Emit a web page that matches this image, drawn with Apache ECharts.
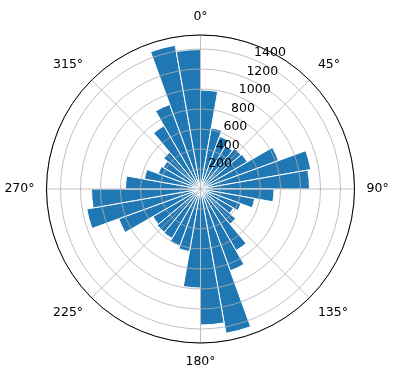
<!DOCTYPE html>
<html><head><meta charset="utf-8">
<script src="https://cdn.jsdelivr.net/npm/echarts@6/dist/echarts.min.js"></script>
<style>html,body{margin:0;padding:0;background:#fff}#c{width:396px;height:380px}</style>
</head><body><div id="c"></div>
<script>
var directions = ['0','10','20','30','40','50','60','70','80','90','100','110','120','130','140','150','160','170',
  '180','190','200','210','220','230','240','250','260','270','280','290','300','310','320','330','340','350'];
var counts = [990,620,560,500,530,540,830,1120,1090,735,550,430,380,460,710,870,1465,1360,
  990,635,605,570,565,550,870,1155,1090,750,570,450,430,480,730,900,1460,1395];
var radialTicks = [200,400,600,800,1000,1200,1400];
var angleTicks = [0,45,90,135,180,225,270,315];
var rMax = 1540;

var chart = echarts.init(document.getElementById('c'), null, {renderer:'canvas'});
var font = 'DejaVu Sans';
var C = [200.5, 189], R = 154;
chart.setOption({
  animation:false,
  polar:[{center:C,radius:R},{center:C,radius:R},{center:C,radius:R}],
  angleAxis:[
    {polarIndex:0,type:'value',min:0,max:360,interval:45,startAngle:90,clockwise:true,z:10,
     axisLine:{show:true,lineStyle:{color:'#000',width:1}},
     axisTick:{show:false},
     splitLine:{show:true,lineStyle:{color:'#b0b0b0',width:0.8}},
     axisLabel:{show:true,margin:12,color:'#000',fontFamily:font,fontSize:12.5,
       formatter:function(v){return angleTicks.indexOf(v)>=0 ? v+'°' : '';}}},
    {polarIndex:1,type:'category',data:directions,startAngle:90,clockwise:true,boundaryGap:true,
     axisLine:{show:false},axisTick:{show:false},axisLabel:{show:false},splitLine:{show:false}},
    {polarIndex:2,type:'value',min:0,max:360,startAngle:67.5,clockwise:true,
     axisLine:{show:false},axisTick:{show:false},axisLabel:{show:false},splitLine:{show:false}}
  ],
  radiusAxis:[
    {polarIndex:0,type:'value',min:0,max:rMax,interval:200,z:10,
     axisLine:{show:false},axisTick:{show:false},axisLabel:{show:false},
     splitLine:{show:true,lineStyle:{color:'#b0b0b0',width:0.8}}},
    {polarIndex:1,type:'value',min:0,max:rMax,
     axisLine:{show:false},axisTick:{show:false},axisLabel:{show:false},splitLine:{show:false}},
    {polarIndex:2,type:'value',min:0,max:rMax,interval:200,z:11,
     axisLine:{show:false},axisTick:{show:false},splitLine:{show:false},
     axisLabel:{show:true,color:'#000',fontFamily:font,fontSize:12.5,margin:0,
       align:'left',verticalAlign:'bottom',padding:[0,0,0,0],
       formatter:function(v){return radialTicks.indexOf(v)>=0 ? String(v) : '';}}}
  ],
  series:[{
    type:'bar',coordinateSystem:'polar',polarIndex:1,data:counts,
    barCategoryGap:'0%',barGap:'0%',
    itemStyle:{color:'#1f77b4',borderColor:'#fff',borderWidth:1},
    z:2
  }]
});
</script></body></html>
